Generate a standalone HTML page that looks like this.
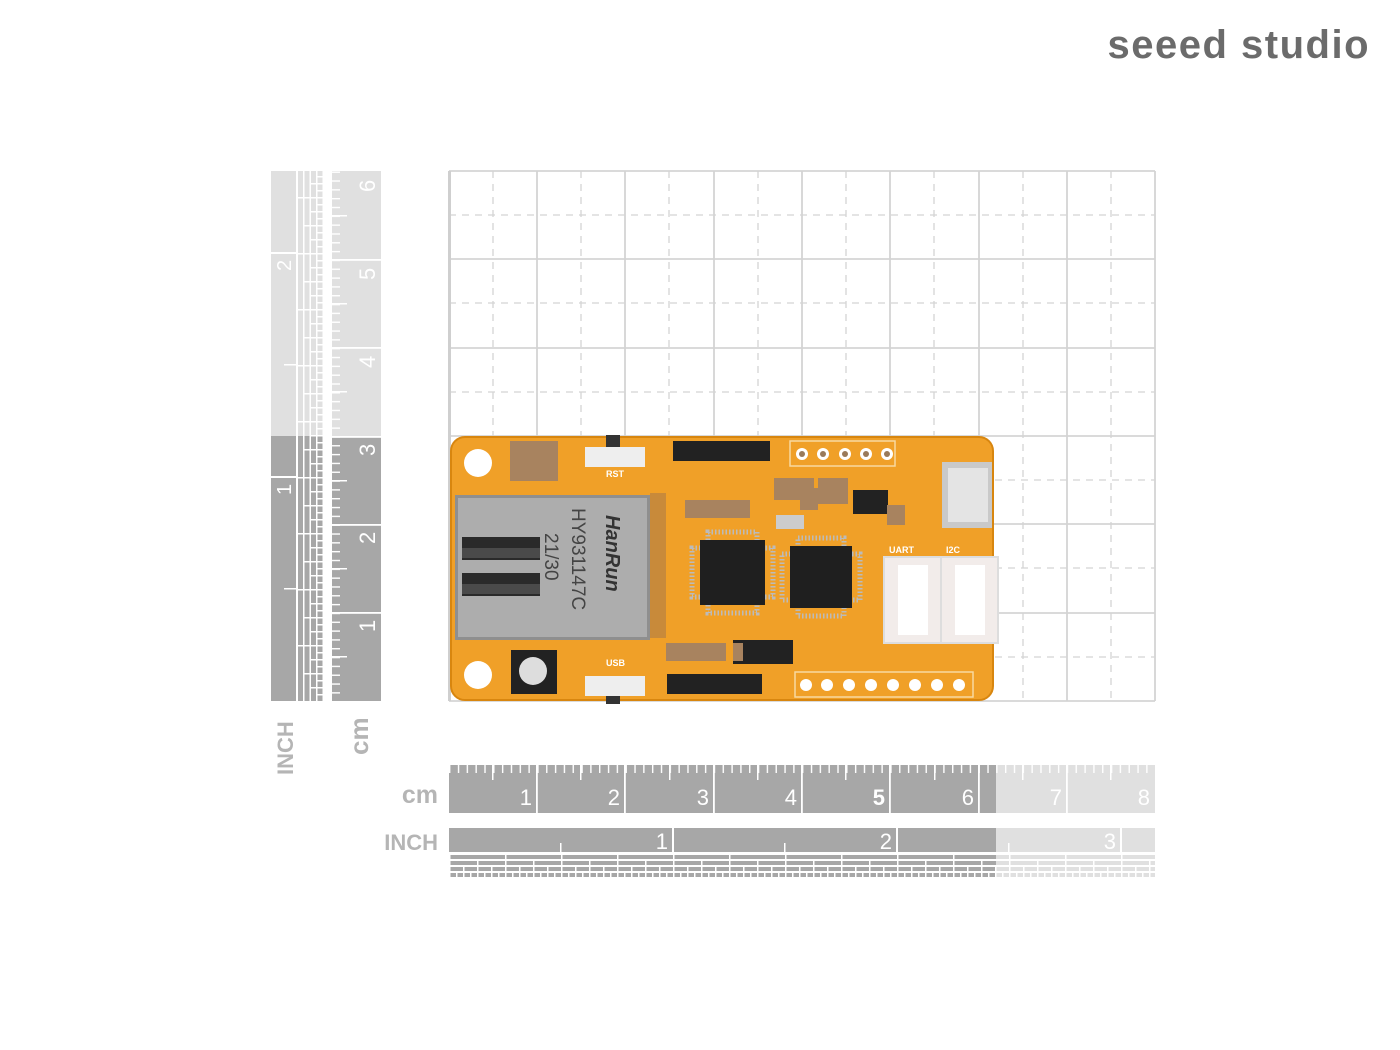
<!DOCTYPE html>
<html><head><meta charset="utf-8"><style>
html,body{margin:0;padding:0;background:#fff;}
svg{display:block;}
text{font-family:"Liberation Sans",sans-serif;}
</style></head><body>
<svg width="1400" height="1050" viewBox="0 0 1400 1050" xmlns="http://www.w3.org/2000/svg">
<defs>
 <pattern id="mmH" x="449" y="0" width="8.825" height="100" patternUnits="userSpaceOnUse"><rect x="0" y="0" width="1.4" height="100" fill="#fff"/></pattern>
 <pattern id="mmV" x="0" y="701" width="100" height="8.825" patternUnits="userSpaceOnUse"><rect x="0" y="0" width="100" height="1.4" fill="#fff"/></pattern>
 <pattern id="in4" x="449" y="0" width="56" height="10" patternUnits="userSpaceOnUse"><rect x="0" width="1.5" height="10" fill="#fff"/></pattern>
 <pattern id="in8" x="449" y="0" width="28" height="10" patternUnits="userSpaceOnUse"><rect x="0" width="1.5" height="10" fill="#fff"/></pattern>
 <pattern id="in16" x="449" y="0" width="14" height="10" patternUnits="userSpaceOnUse"><rect x="0" width="1.5" height="10" fill="#fff"/></pattern>
 <pattern id="in32" x="449" y="0" width="7" height="10" patternUnits="userSpaceOnUse"><rect x="0" width="1.5" height="10" fill="#fff"/></pattern>
 <pattern id="vin4" x="0" y="701" width="10" height="56" patternUnits="userSpaceOnUse"><rect y="0" height="1.5" width="10" fill="#fff"/></pattern>
 <pattern id="vin8" x="0" y="701" width="10" height="28" patternUnits="userSpaceOnUse"><rect y="0" height="1.5" width="10" fill="#fff"/></pattern>
 <pattern id="vin16" x="0" y="701" width="10" height="14" patternUnits="userSpaceOnUse"><rect y="0" height="1.5" width="10" fill="#fff"/></pattern>
 <pattern id="vin32" x="0" y="701" width="10" height="7" patternUnits="userSpaceOnUse"><rect y="0" height="1.5" width="10" fill="#fff"/></pattern>
</defs>

<!-- logo -->
<text x="1370" y="58" text-anchor="end" font-size="40" font-weight="bold" fill="#6b6b6b" letter-spacing="1.5">seeed studio</text>

<!-- grid -->
<g stroke="#d4d4d4" stroke-width="1.3" stroke-dasharray="7,6">
 <line x1="493" y1="171" x2="493" y2="701"/><line x1="581" y1="171" x2="581" y2="701"/><line x1="669" y1="171" x2="669" y2="701"/><line x1="758" y1="171" x2="758" y2="701"/><line x1="846" y1="171" x2="846" y2="701"/><line x1="934" y1="171" x2="934" y2="701"/><line x1="1023" y1="171" x2="1023" y2="701"/><line x1="1111" y1="171" x2="1111" y2="701"/>
 <line x1="449" y1="215" x2="1155" y2="215"/><line x1="449" y1="303" x2="1155" y2="303"/><line x1="449" y1="392" x2="1155" y2="392"/><line x1="449" y1="480" x2="1155" y2="480"/><line x1="449" y1="568" x2="1155" y2="568"/><line x1="449" y1="657" x2="1155" y2="657"/>
</g>
<g stroke="#d4d4d4" stroke-width="1.8">
 <line x1="537" y1="171" x2="537" y2="701"/><line x1="625" y1="171" x2="625" y2="701"/><line x1="714" y1="171" x2="714" y2="701"/><line x1="802" y1="171" x2="802" y2="701"/><line x1="890" y1="171" x2="890" y2="701"/><line x1="979" y1="171" x2="979" y2="701"/><line x1="1067" y1="171" x2="1067" y2="701"/><line x1="1155" y1="171" x2="1155" y2="701"/>
 <line x1="449" y1="171" x2="1155" y2="171"/><line x1="449" y1="259" x2="1155" y2="259"/><line x1="449" y1="348" x2="1155" y2="348"/><line x1="449" y1="436" x2="1155" y2="436"/><line x1="449" y1="524" x2="1155" y2="524"/><line x1="449" y1="613" x2="1155" y2="613"/><line x1="449" y1="701" x2="1155" y2="701"/>
</g>
<line x1="449.5" y1="171" x2="449.5" y2="701" stroke="#cfcfcf" stroke-width="3"/>

<!-- bottom cm ruler -->
<rect x="449" y="765" width="547" height="48" fill="#a7a7a7"/>
<rect x="996" y="765" width="159" height="48" fill="#e0e0e0"/>
<rect x="449" y="765" width="706" height="8" fill="url(#mmH)"/>
<g fill="#fff">
 <rect x="492" y="765" width="1.5" height="15"/><rect x="580" y="765" width="1.5" height="15"/><rect x="669" y="765" width="1.5" height="15"/><rect x="757" y="765" width="1.5" height="15"/><rect x="845" y="765" width="1.5" height="15"/><rect x="934" y="765" width="1.5" height="15"/><rect x="1022" y="765" width="1.5" height="15"/><rect x="1110" y="765" width="1.5" height="15"/>
 <rect x="536" y="765" width="1.8" height="48"/><rect x="624" y="765" width="1.8" height="48"/><rect x="713" y="765" width="1.8" height="48"/><rect x="801" y="765" width="1.8" height="48"/><rect x="889" y="765" width="1.8" height="48"/><rect x="978" y="765" width="1.8" height="48"/><rect x="1066" y="765" width="1.8" height="48"/>
</g>
<g fill="#fff" font-size="22" text-anchor="end">
 <text x="532" y="805">1</text><text x="620" y="805">2</text><text x="709" y="805">3</text><text x="797" y="805">4</text><text x="885" y="805" font-weight="bold">5</text><text x="974" y="805">6</text><text x="1062" y="805">7</text><text x="1150" y="805">8</text>
</g>
<text x="438" y="803" text-anchor="end" font-size="25" font-weight="bold" fill="#b5b5b5">cm</text>

<!-- bottom inch ruler -->
<rect x="449" y="828" width="547" height="24" fill="#a7a7a7"/>
<rect x="996" y="828" width="159" height="24" fill="#e0e0e0"/>
<g fill="#fff"><rect x="672" y="828" width="2" height="24"/><rect x="896" y="828" width="2" height="24"/><rect x="1120" y="828" width="2" height="24"/><rect x="560" y="843" width="1.5" height="9"/><rect x="784" y="843" width="1.5" height="9"/><rect x="1008" y="843" width="1.5" height="9"/></g>
<g fill="#fff" font-size="22" text-anchor="end"><text x="668" y="849">1</text><text x="892" y="849">2</text><text x="1116" y="849">3</text></g>
<text x="438" y="850" text-anchor="end" font-size="22" font-weight="bold" fill="#b5b5b5">INCH</text>
<rect x="449" y="855" width="547" height="4" fill="#a7a7a7"/><rect x="996" y="855" width="159" height="4" fill="#e0e0e0"/>
<rect x="449" y="861" width="547" height="4" fill="#a7a7a7"/><rect x="996" y="861" width="159" height="4" fill="#e0e0e0"/>
<rect x="449" y="867" width="547" height="4" fill="#a7a7a7"/><rect x="996" y="867" width="159" height="4" fill="#e0e0e0"/>
<rect x="449" y="873" width="547" height="4" fill="#a7a7a7"/><rect x="996" y="873" width="159" height="4" fill="#e0e0e0"/>
<rect x="449" y="855" width="706" height="4" fill="url(#in4)"/>
<rect x="449" y="861" width="706" height="4" fill="url(#in8)"/>
<rect x="449" y="867" width="706" height="4" fill="url(#in16)"/>
<rect x="449" y="873" width="706" height="4" fill="url(#in32)"/>

<!-- left inch ruler -->
<rect x="271" y="171" width="25" height="265" fill="#e0e0e0"/><rect x="271" y="436" width="25" height="265" fill="#a7a7a7"/>
<g fill="#fff"><rect x="271" y="476" width="25" height="2"/><rect x="271" y="252" width="25" height="2"/><rect x="284" y="588" width="12" height="1.5"/><rect x="284" y="364" width="12" height="1.5"/></g>
<g fill="#fff" font-size="20"><text transform="translate(291,495) rotate(-90)">1</text><text transform="translate(291,271) rotate(-90)">2</text></g>
<g>
 <rect x="298" y="171" width="5" height="265" fill="#e0e0e0"/><rect x="298" y="436" width="5" height="265" fill="#a7a7a7"/>
 <rect x="304.5" y="171" width="5" height="265" fill="#e0e0e0"/><rect x="304.5" y="436" width="5" height="265" fill="#a7a7a7"/>
 <rect x="311" y="171" width="5" height="265" fill="#e0e0e0"/><rect x="311" y="436" width="5" height="265" fill="#a7a7a7"/>
 <rect x="317.5" y="171" width="5" height="265" fill="#e0e0e0"/><rect x="317.5" y="436" width="5" height="265" fill="#a7a7a7"/>
 <rect x="298" y="171" width="5" height="530" fill="url(#vin4)"/>
 <rect x="304.5" y="171" width="5" height="530" fill="url(#vin8)"/>
 <rect x="311" y="171" width="5" height="530" fill="url(#vin16)"/>
 <rect x="317.5" y="171" width="5" height="530" fill="url(#vin32)"/>
</g>
<text transform="translate(293,775) rotate(-90)" font-size="22" font-weight="bold" fill="#b5b5b5">INCH</text>

<!-- left cm ruler -->
<rect x="332" y="171" width="49" height="265" fill="#e0e0e0"/><rect x="332" y="436" width="49" height="265" fill="#a7a7a7"/>
<rect x="332" y="171" width="8" height="530" fill="url(#mmV)"/>
<g fill="#fff">
 <rect x="332" y="656" width="15" height="1.5"/><rect x="332" y="568" width="15" height="1.5"/><rect x="332" y="480" width="15" height="1.5"/><rect x="332" y="391" width="15" height="1.5"/><rect x="332" y="303" width="15" height="1.5"/><rect x="332" y="215" width="15" height="1.5"/>
 <rect x="332" y="612" width="49" height="1.8"/><rect x="332" y="524" width="49" height="1.8"/><rect x="332" y="436" width="49" height="1.8"/><rect x="332" y="347" width="49" height="1.8"/><rect x="332" y="259" width="49" height="1.8"/>
</g>
<g fill="#fff" font-size="22"><text transform="translate(375,632) rotate(-90)">1</text><text transform="translate(375,544) rotate(-90)">2</text><text transform="translate(375,456) rotate(-90)">3</text><text transform="translate(375,368) rotate(-90)">4</text><text transform="translate(375,280) rotate(-90)">5</text><text transform="translate(375,192) rotate(-90)">6</text></g>
<text transform="translate(368,755) rotate(-90)" font-size="26" font-weight="bold" fill="#b5b5b5">cm</text>

<!-- board -->
<rect x="451" y="437" width="542" height="263" rx="14" fill="#f0a028"/>
<rect x="451" y="437" width="542" height="263" rx="14" fill="none" stroke="#d8860f" stroke-width="2"/>
<circle cx="478" cy="463" r="14" fill="#fff"/><circle cx="478" cy="675" r="14" fill="#fff"/>
<!-- RJ45 -->
<rect x="455" y="495" width="195" height="145" fill="#8f8f8f"/>
<rect x="458" y="498" width="189" height="139" fill="#adadad"/>
<rect x="462" y="537" width="78" height="23" fill="#2a2a2a"/><rect x="462" y="573" width="78" height="23" fill="#2a2a2a"/>
<rect x="462" y="548" width="78" height="10" fill="#4a4a4a"/><rect x="462" y="584" width="78" height="10" fill="#4a4a4a"/>
<g fill="#333" font-size="20" font-weight="bold"><text transform="translate(606,515) rotate(90)" font-style="italic">HanRun</text></g>
<g fill="#444" font-size="19"><text transform="translate(572,508) rotate(90)">HY931147C</text><text transform="translate(545,533) rotate(90)">21/30</text></g>
<rect x="650" y="493" width="16" height="145" fill="#c88a3a"/>
<!-- headers -->
<rect x="673" y="441" width="97" height="20" fill="#222"/>
<rect x="667" y="674" width="95" height="20" fill="#222"/>
<rect x="790" y="441" width="105" height="25" fill="none" stroke="#f8d9a0" stroke-width="1.5"/>
<g fill="#fff"><circle cx="802" cy="454" r="6"/><circle cx="823" cy="454" r="6"/><circle cx="845" cy="454" r="6"/><circle cx="866" cy="454" r="6"/><circle cx="887" cy="454" r="6"/></g>
<g fill="#9a7a5a"><circle cx="802" cy="454" r="3"/><circle cx="823" cy="454" r="3"/><circle cx="845" cy="454" r="3"/><circle cx="866" cy="454" r="3"/><circle cx="887" cy="454" r="3"/></g>
<rect x="795" y="672" width="178" height="25" fill="none" stroke="#f8d9a0" stroke-width="1.5"/>
<g fill="#fff"><circle cx="806" cy="685" r="6"/><circle cx="827" cy="685" r="6"/><circle cx="849" cy="685" r="6"/><circle cx="871" cy="685" r="6"/><circle cx="893" cy="685" r="6"/><circle cx="915" cy="685" r="6"/><circle cx="937" cy="685" r="6"/><circle cx="959" cy="685" r="6"/></g>
<!-- switches -->
<rect x="585" y="447" width="60" height="20" fill="#eee"/><rect x="606" y="435" width="14" height="12" fill="#333"/>
<text x="606" y="477" font-size="9" font-weight="bold" fill="#fff">RST</text>
<rect x="585" y="676" width="60" height="20" fill="#eee"/><rect x="606" y="696" width="14" height="8" fill="#333"/>
<text x="606" y="666" font-size="9" font-weight="bold" fill="#fff">USB</text>
<!-- chips -->
<rect x="692" y="548" width="81" height="49" fill="none" stroke="#bbb" stroke-width="5" stroke-dasharray="1.5,2"/>
<rect x="708" y="532" width="49" height="81" fill="none" stroke="#bbb" stroke-width="5" stroke-dasharray="1.5,2"/>
<rect x="700" y="540" width="65" height="65" fill="#1f1f1f"/>
<rect x="782" y="554" width="78" height="46" fill="none" stroke="#bbb" stroke-width="5" stroke-dasharray="1.5,2"/>
<rect x="798" y="538" width="46" height="78" fill="none" stroke="#bbb" stroke-width="5" stroke-dasharray="1.5,2"/>
<rect x="790" y="546" width="62" height="62" fill="#1f1f1f"/>
<rect x="733" y="640" width="60" height="24" fill="#222"/>
<rect x="853" y="490" width="35" height="24" fill="#222"/>
<!-- small parts -->
<g fill="#a8835f"><rect x="774" y="478" width="40" height="22"/><rect x="685" y="500" width="65" height="18"/><rect x="800" y="488" width="18" height="22"/><rect x="818" y="478" width="30" height="26"/><rect x="887" y="505" width="18" height="20"/><rect x="733" y="643" width="10" height="18"/><rect x="666" y="643" width="60" height="18"/><rect x="510" y="441" width="48" height="40"/></g>
<rect x="776" y="515" width="28" height="14" fill="#ccc"/>
<!-- USB micro -->
<rect x="942" y="462" width="50" height="66" fill="#c9c9c9"/><rect x="948" y="468" width="40" height="54" fill="#e4e4e4"/>
<!-- grove connectors -->
<rect x="884" y="557" width="114" height="86" fill="#f2ecea"/>
<rect x="884" y="557" width="57" height="86" fill="none" stroke="#ddd" stroke-width="2"/>
<rect x="941" y="557" width="57" height="86" fill="none" stroke="#ddd" stroke-width="2"/>
<rect x="898" y="565" width="30" height="70" fill="#fff"/><rect x="955" y="565" width="30" height="70" fill="#fff"/>
<text x="889" y="553" font-size="9" font-weight="bold" fill="#fff">UART</text>
<text x="946" y="553" font-size="9" font-weight="bold" fill="#fff">I2C</text>
<!-- LED -->
<rect x="511" y="650" width="46" height="44" fill="#222"/><circle cx="533" cy="671" r="14" fill="#ddd"/>
</svg>
</body></html>
